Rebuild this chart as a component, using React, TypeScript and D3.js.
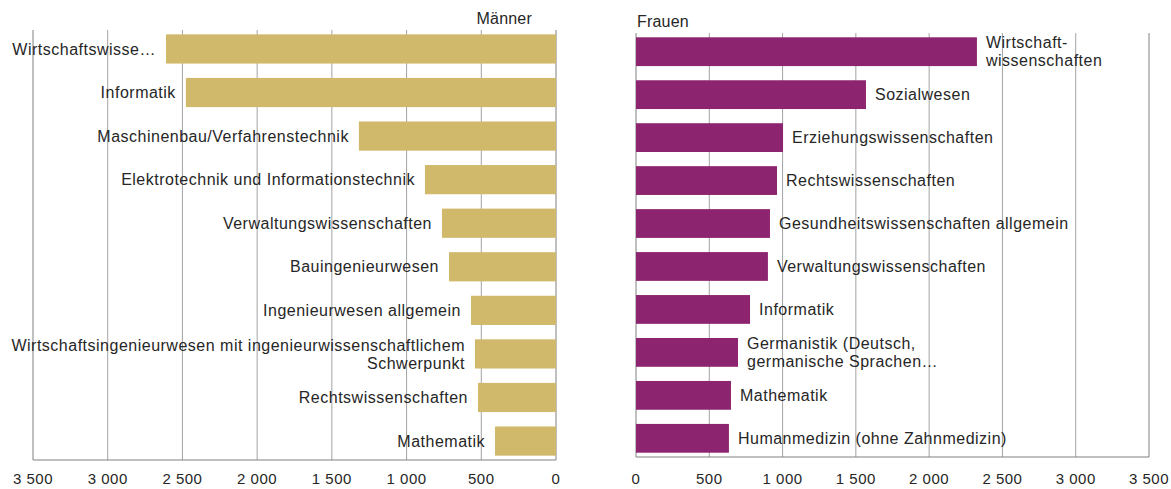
import React from "react";
import * as d3 from "d3";

const menCategories = [
  "Wirtschaftswisse…",
  "Informatik",
  "Maschinenbau/Verfahrenstechnik",
  "Elektrotechnik und Informationstechnik",
  "Verwaltungswissenschaften",
  "Bauingenieurwesen",
  "Ingenieurwesen allgemein",
  "Wirtschaftsingenieurwesen mit ingenieurwissenschaftlichem\nSchwerpunkt",
  "Rechtswissenschaften",
  "Mathematik",
];
const menValues = [2610, 2477, 1319, 877, 763, 716, 569, 542, 522, 408];

const womenCategories = [
  "Wirtschaft-\nwissenschaften",
  "Sozialwesen",
  "Erziehungswissenschaften",
  "Rechtswissenschaften",
  "Gesundheitswissenschaften allgemein",
  "Verwaltungswissenschaften",
  "Informatik",
  "Germanistik (Deutsch,\ngermanische Sprachen…",
  "Mathematik",
  "Humanmedizin (ohne Zahnmedizin)",
];
const womenValues = [2326, 1569, 1003, 962, 914, 900, 778, 696, 648, 634];

const tickValues = [0, 500, 1000, 1500, 2000, 2500, 3000, 3500];
const tickLabels = ["0", "500", "1 000", "1 500", "2 000", "2 500", "3 000", "3 500"];

const font = "'Liberation Sans', Arial, sans-serif";
const gold = "#d0b96b";
const purple = "#8d246f";
const gridColor = "#a3a3a3";
const axisColor = "#808080";

// splits a label into lines and centers them on y
const Label = ({ text, x, y, anchor }) => {
  const lines = text.split("\n");
  const lh = 18;
  const y0 = y - ((lines.length - 1) * lh) / 2;
  return (
    <text
      x={x}
      textAnchor={anchor}
      fontFamily={font}
      fontSize={16}
      letterSpacing={0.5}
      fill="#262626"
    >
      {lines.map((l, i) => (
        <tspan key={i} x={x} y={y0 + i * lh} dy="0.35em">
          {l}
        </tspan>
      ))}
    </text>
  );
};

const App = () => {
  const width = 1171;
  const height = 489;

  // left panel (Männer) grows to the left
  const xL = d3.scaleLinear().domain([0, 3500]).range([556, 33]);
  const yL = d3.scaleBand().domain(menCategories).range([30, 460]).paddingInner(0.33).paddingOuter(0.1);

  // right panel (Frauen)
  const xR = d3.scaleLinear().domain([0, 3500]).range([636, 1149]);
  const yR = d3.scaleBand().domain(womenCategories).range([33, 457]).paddingInner(0.33).paddingOuter(0.1);

  return (
    <svg
      width={width}
      height={height}
      style={{ position: "absolute", left: 0, top: 0, background: "#fff" }}
    >
      {/* Männer grid */}
      {tickValues.map((t) => (
        <line
          key={"gl" + t}
          x1={xL(t)}
          x2={xL(t)}
          y1={30}
          y2={460}
          stroke={t === 0 || t === 3500 ? axisColor : gridColor}
          strokeWidth={1}
        />
      ))}
      <line x1={xL(3500)} x2={xL(0)} y1={460} y2={460} stroke={axisColor} />
      {tickValues.map((t, i) => (
        <text
          key={"tl" + t}
          x={xL(t)}
          y={484}
          textAnchor="middle"
          fontFamily={font}
          fontSize={15}
          letterSpacing={0.5}
          fill="#262626"
        >
          {tickLabels[i]}
        </text>
      ))}
      <text x={532} y={24} textAnchor="end" fontFamily={font} fontSize={16} letterSpacing={0.2} fill="#262626">
        Männer
      </text>
      {menCategories.map((c, i) => (
        <g key={"m" + i}>
          <rect
            x={xL(menValues[i])}
            y={yL(c)}
            width={xL(0) - xL(menValues[i])}
            height={yL.bandwidth()}
            fill={gold}
          />
          <Label text={c} x={xL(menValues[i]) - 10} y={yL(c) + yL.bandwidth() / 2} anchor="end" />
        </g>
      ))}

      {/* Frauen grid */}
      {tickValues.map((t) => (
        <line
          key={"gr" + t}
          x1={xR(t)}
          x2={xR(t)}
          y1={33}
          y2={457}
          stroke={t === 0 || t === 3500 ? axisColor : gridColor}
          strokeWidth={1}
        />
      ))}
      <line x1={xR(0)} x2={xR(3500)} y1={457} y2={457} stroke={axisColor} />
      {tickValues.map((t, i) => (
        <text
          key={"tr" + t}
          x={xR(t)}
          y={484}
          textAnchor="middle"
          fontFamily={font}
          fontSize={15}
          letterSpacing={0.5}
          fill="#262626"
        >
          {tickLabels[i]}
        </text>
      ))}
      <text x={637} y={27} fontFamily={font} fontSize={16} letterSpacing={0.2} fill="#262626">
        Frauen
      </text>
      {womenCategories.map((c, i) => (
        <g key={"w" + i}>
          <rect
            x={xR(0)}
            y={yR(c)}
            width={xR(womenValues[i]) - xR(0)}
            height={yR.bandwidth()}
            fill={purple}
          />
          <Label text={c} x={xR(womenValues[i]) + 9} y={yR(c) + yR.bandwidth() / 2} anchor="start" />
        </g>
      ))}
    </svg>
  );
};

export default App;
